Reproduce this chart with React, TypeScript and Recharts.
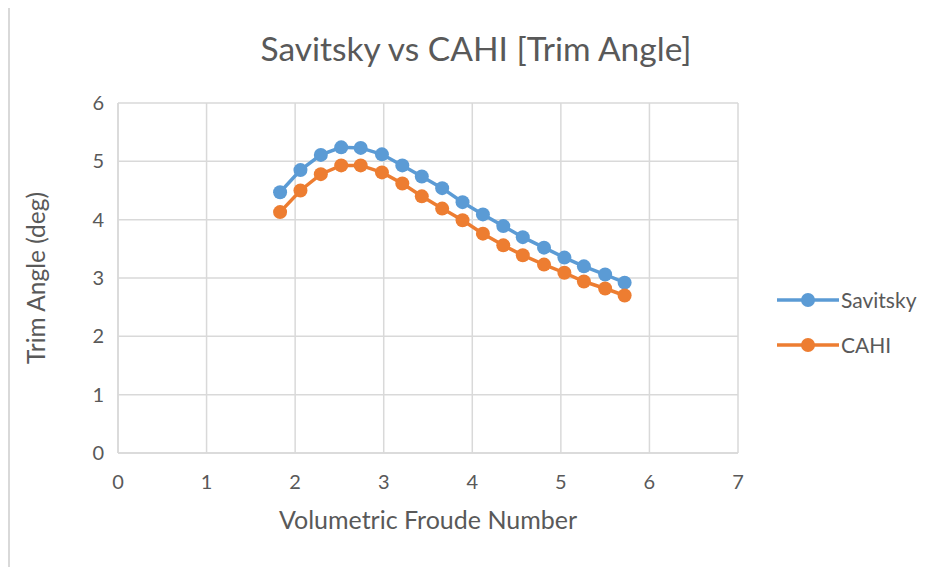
import React from 'react';
import { LineChart, Line, XAxis, YAxis, CartesianGrid, Legend } from 'recharts';

const froude = [1.83, 2.06, 2.29, 2.52, 2.74, 2.98, 3.21, 3.43, 3.66, 3.89, 4.12, 4.35, 4.57, 4.81, 5.04, 5.26, 5.5, 5.72];
const savitsky = [4.47, 4.85, 5.11, 5.24, 5.23, 5.12, 4.93, 4.74, 4.54, 4.3, 4.09, 3.89, 3.7, 3.52, 3.35, 3.2, 3.06, 2.92];
const cahi = [4.13, 4.5, 4.78, 4.93, 4.93, 4.81, 4.62, 4.4, 4.19, 3.99, 3.76, 3.56, 3.39, 3.23, 3.09, 2.94, 2.82, 2.7];
const seriesOrder = ['Savitsky', 'CAHI'];
const xTicks = [0, 1, 2, 3, 4, 5, 6, 7];
const yTicks = [0, 1, 2, 3, 4, 5, 6];

const FONT = 'Lato, "Open Sans", sans-serif';
const TEXT = '#595959';
const GRID = '#d9d9d9';
const BLUE = '#5B9BD5';
const ORANGE = '#ED7D31';

const data = froude.map((x, i) => ({ x, savitsky: savitsky[i], cahi: cahi[i] }));

const LegendBox = ({ payload }: any) => {
  const items = [...(payload || [])].sort(
    (a: any, b: any) => seriesOrder.indexOf(a.value) - seriesOrder.indexOf(b.value)
  );
  return (
    <div>
      {items.map((p: any) => (
        <div key={p.value} style={{ display: 'flex', alignItems: 'center', height: 45 }}>
          <svg width={64} height={16}>
            <line x1={0} y1={8} x2={62} y2={8} stroke={p.color} strokeWidth={3.5} />
            <circle cx={31} cy={8} r={7} fill={p.color} />
          </svg>
          <span style={{ fontFamily: FONT, fontSize: 21, color: TEXT }}>{p.value}</span>
        </div>
      ))}
    </div>
  );
};

export default function App() {
  return (
    <div
      style={{
        position: 'relative',
        marginTop: -3,
        width: 940,
        height: 570,
        borderLeft: `2px solid ${GRID}`,
        borderTop: `2px solid ${GRID}`,
        background: '#fff',
      }}
    >
      <div
        style={{
          position: 'absolute',
          left: 0,
          width: 932,
          top: 21,
          textAlign: 'center',
          fontFamily: FONT,
          fontSize: 33.5,
          color: TEXT,
        }}
      >
        Savitsky vs CAHI [Trim Angle]
      </div>
      <LineChart
        width={928}
        height={562}
        data={data}
        margin={{ top: 96, right: 40, bottom: 46, left: 48 }}
        style={{ fontFamily: FONT }}
      >
        <CartesianGrid stroke={GRID} strokeWidth={1.5} />
        <XAxis
          type="number"
          dataKey="x"
          domain={[0, 7]}
          ticks={xTicks}
          height={70}
          stroke={GRID}
          strokeWidth={1.5}
          tickLine={false}
          tickMargin={16}
          tick={{ fill: TEXT, fontSize: 20 }}
          label={{
            content: ({ viewBox }: any) => (
              <text x={viewBox.x + 310} y={viewBox.y + 76} textAnchor="middle" fill={TEXT} fontSize={25}>
                Volumetric Froude Number
              </text>
            ),
          }}
        />
        <YAxis
          type="number"
          domain={[0, 6]}
          ticks={yTicks}
          width={60}
          stroke={GRID}
          strokeWidth={1.5}
          tickLine={false}
          tickMargin={8}
          tick={{ fill: TEXT, fontSize: 20 }}
          label={{
            content: ({ viewBox }: any) => {
              const cx = 25;
              const cy = viewBox.y + viewBox.height / 2;
              return (
                <text x={cx} y={cy} transform={`rotate(-90 ${cx} ${cy})`} textAnchor="middle" dominantBaseline="central" fill={TEXT} fontSize={24.5}>
                  Trim Angle (deg)
                </text>
              );
            },
          }}
        />
        <Legend
          layout="vertical"
          align="right"
          verticalAlign="middle"
          width={160}
          content={<LegendBox />}
          wrapperStyle={{ top: 270, left: 767, right: 'auto' }}
        />
        <Line
          name="Savitsky"
          dataKey="savitsky"
          stroke={BLUE}
          strokeWidth={3.5}
          dot={{ r: 7, fill: BLUE, stroke: BLUE, strokeWidth: 0 }}
          activeDot={false}
          isAnimationActive={false}
        />
        <Line
          name="CAHI"
          dataKey="cahi"
          stroke={ORANGE}
          strokeWidth={3.5}
          dot={{ r: 7, fill: ORANGE, stroke: ORANGE, strokeWidth: 0 }}
          activeDot={false}
          isAnimationActive={false}
        />
      </LineChart>
    </div>
  );
}
